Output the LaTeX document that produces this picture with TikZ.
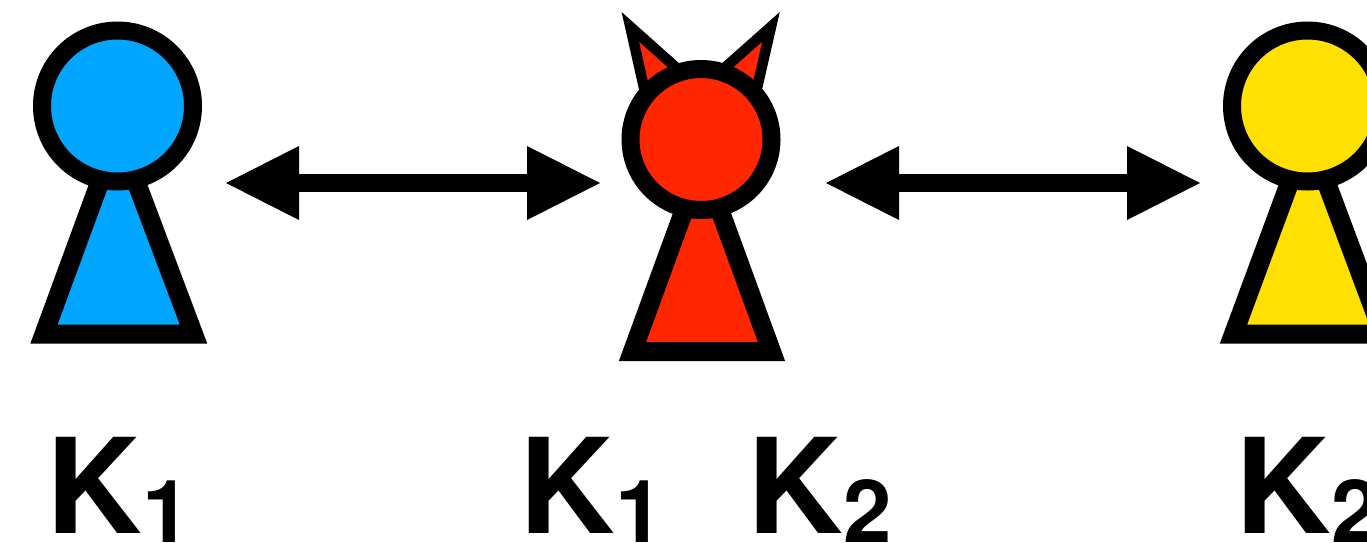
\documentclass[tikz,border=0pt]{standalone}
\usepackage{fontspec}
\usetikzlibrary{arrows.meta}
\setmainfont{TeX Gyre Heros}
\definecolor{bluec}{RGB}{0,166,255}
\definecolor{redc}{RGB}{255,38,0}
\definecolor{yelc}{RGB}{255,224,0}
\tikzset{
  px/.style={x=1pt,y=-1pt},
  outline/.style={draw=black,line width=18pt,line join=miter,miter limit=10},
  body/.style={draw=black,line width=19pt,line join=miter,miter limit=10},
  ear/.style={draw=black,line width=10.5pt,line join=miter,miter limit=10,fill=redc},
  link/.style={draw=black,line width=18pt,{Triangle[length=73pt,width=74pt,line width=0pt]}-{Triangle[length=73pt,width=74pt,line width=0pt]}},
  lab/.style={font=\bfseries\fontsize{132}{132}\selectfont,anchor=base west,inner sep=0pt,outer sep=0pt},
  sublab/.style={font=\bfseries\fontsize{87}{87}\selectfont,anchor=base west,inner sep=0pt,outer sep=0pt}
}
\begin{document}
\begin{tikzpicture}[px]
\useasboundingbox (0,0) rectangle (1367,542);
\clip (0,0) rectangle (1367,542);
% ears
\path[ear] (630.3,26.8) -- (699,88) -- (648,105.6) -- cycle;
\path[ear] (771,26.8) -- (702,88) -- (753,105.6) -- cycle;
% people
\path[body,fill=bluec] (44,334) -- (102,176) -- (134,176) -- (193.5,334) -- cycle;
\path[outline,fill=bluec] (117.5,106) circle (75.5pt);
\path[body,fill=redc] (632.5,351.5) -- (686,205) -- (718,205) -- (771.5,351.5) -- cycle;
\path[outline,fill=redc] (701,139.5) circle (70.5pt);
\path[body,fill=yelc] (1233.5,334) -- (1292,176) -- (1324,176) -- (1383,334) -- cycle;
\path[outline,fill=yelc] (1307.5,106) circle (75.5pt);
% arrows
\coordinate (a1) at (226,183); \coordinate (a2) at (600,183);
\coordinate (b1) at (826,183); \coordinate (b2) at (1200,183);
\draw[link] (a1) -- (a2);
\draw[link] (b1) -- (b2);
% labels
\node[lab] (k1) at (46,533) {K};
\node[sublab] (s1) at (142,542) {1};
\node[lab] (k2) at (519,533) {K};
\node[sublab] (s2) at (615,542) {1};
\node[lab] (k3) at (747,533) {K};
\node[sublab] (s3) at (843,542) {2};
\node[lab] (k4) at (1235,533) {K};
\node[sublab] (s4) at (1331,542) {2};
\end{tikzpicture}
\end{document}
